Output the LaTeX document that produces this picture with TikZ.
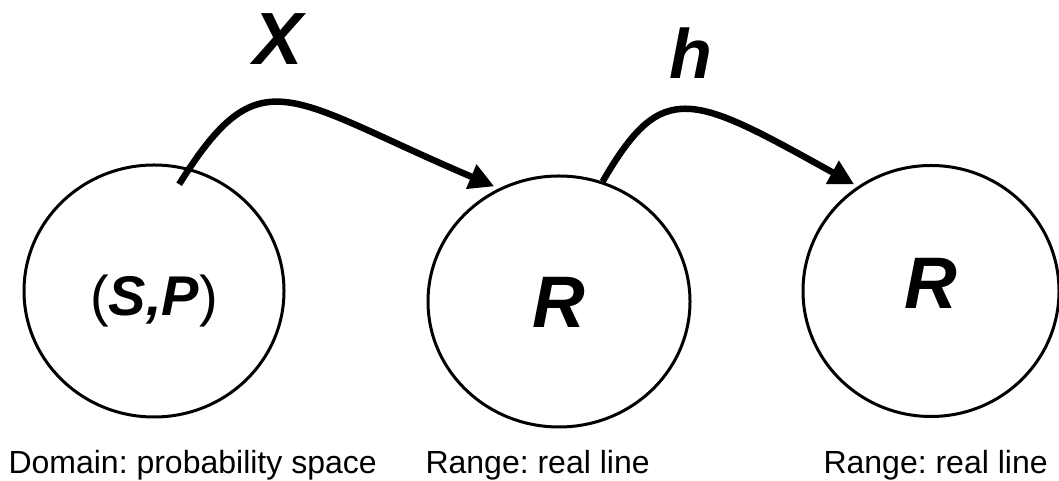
\documentclass[tikz,border=0pt]{standalone}
\usepackage{fontspec}
\setmainfont{Liberation Sans}
\usetikzlibrary{shapes.geometric, arrows.meta}
\tikzstyle{ball} = [
    ellipse,
    line width=3pt,
    text depth=0pt,
    draw=black
]
\tikzstyle{maplabel} = [
    anchor=base,
    font=\fontsize{74}{80}\selectfont\bfseries\itshape
]
\tikzstyle{note} = [
    anchor=base west,
    font=\fontsize{32}{36}\selectfont\frenchspacing
]
\tikzstyle{arrow} = [line width=6.5pt, -{Triangle[length=25pt,width=25pt]}]

\begin{document}
\begin{tikzpicture}[x=1pt, y=1pt]
\useasboundingbox (0,0) rectangle (1059,481);

\node (space) [ball, minimum width=260pt, minimum height=252pt, text height=50pt,
    font=\fontsize{56}{60}\selectfont] at (154,190) {(\textbf{\textit{S,P}})};

\node (line1) [ball, minimum width=262pt, minimum height=251pt, text height=53pt,
    font=\fontsize{73}{76}\selectfont\bfseries\itshape] at (559,179.5) {R\hspace{18pt}};

\node (line2) [ball, minimum width=256pt, minimum height=251pt, text height=36pt,
    font=\fontsize{73}{76}\selectfont\bfseries\itshape] at (931,190) {R};

\node (xname) [maplabel] at (278,416) {X};
\node (hname) [maplabel, font=\fontsize{70}{76}\selectfont\bfseries\itshape] at (691,402) {h};

\node (spnote) [note] at (5,7) {Domain: probability space};
\node (l1note) [note] at (422,7) {Range: real line};
\node (l2note) [note] at (820,7) {Range: real line};

\draw [arrow, shorten <=-19pt, shorten >=5pt] (space.74) .. controls +(58:135) and +(157:230) .. (line1.118);
\draw [arrow, shorten >=4pt] (line1.70) .. controls +(60:120) and +(151:190) .. (line2.125);

\end{tikzpicture}
\end{document}
